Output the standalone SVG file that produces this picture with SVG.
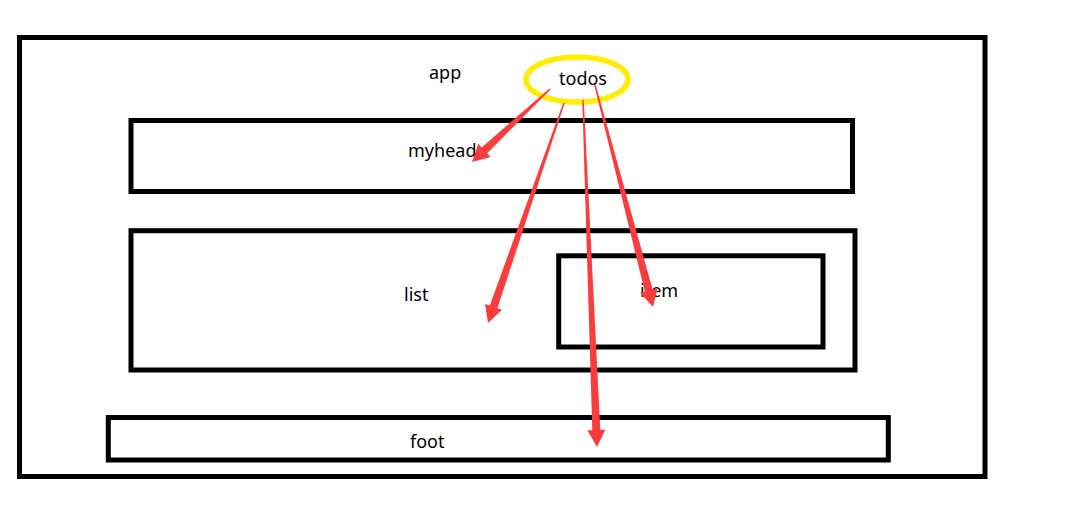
<svg xmlns="http://www.w3.org/2000/svg" width="1072" height="523" viewBox="0 0 1072 523">
<style>
.box{fill:none;stroke:#000;stroke-width:5}
.lbl{font-family:"Noto Sans","Liberation Sans",sans-serif;font-size:18px;fill:#000}
.arr{fill:#FA3C3C;stroke:none}
</style>
<rect width="1072" height="523" fill="#fff"/>
<g id="app">
<rect class="box" x="19.5" y="37.5" width="965.5" height="439"/>
<text class="lbl" x="429" y="79">app</text>
</g>
<g id="myhead">
<rect class="box" x="131" y="120.5" width="721.5" height="71"/>
<text class="lbl" x="408" y="157">myhead</text>
</g>
<g id="list">
<rect class="box" x="131" y="230.7" width="724" height="139.3"/>
<text class="lbl" x="404" y="301">list</text>
</g>
<g id="item">
<rect class="box" x="558.7" y="255.8" width="264.3" height="91.2"/>
<text class="lbl" x="640" y="297">item</text>
</g>
<g id="foot">
<rect class="box" x="108.3" y="417.5" width="780" height="42.5"/>
<text class="lbl" x="410" y="448">foot</text>
</g>
<g id="todos">
<ellipse cx="577" cy="79.5" rx="51" ry="22.5" fill="none" stroke="#FFEE00" stroke-width="5.5"/>
<text class="lbl" x="559" y="85">todos</text>
</g>
<g id="connectors">
<polygon class="arr" points="549.49,88.45 481.68,147.46 478.26,143.81 472,162 490.56,156.95 487.14,153.30 550.51,89.55"/>
<polygon class="arr" points="563.29,102.76 489.77,305.62 485.04,303.99 488,323 502.06,309.87 497.33,308.24 564.71,103.24"/>
<polygon class="arr" points="582.25,100.03 592.31,430.17 587.32,430.37 597,447 605.30,429.65 600.31,429.85 583.75,99.97"/>
<polygon class="arr" points="594.27,85.19 644.83,291.56 639.99,292.83 653,307 657.41,288.27 652.57,289.54 595.73,84.81"/>
</g>
</svg>
